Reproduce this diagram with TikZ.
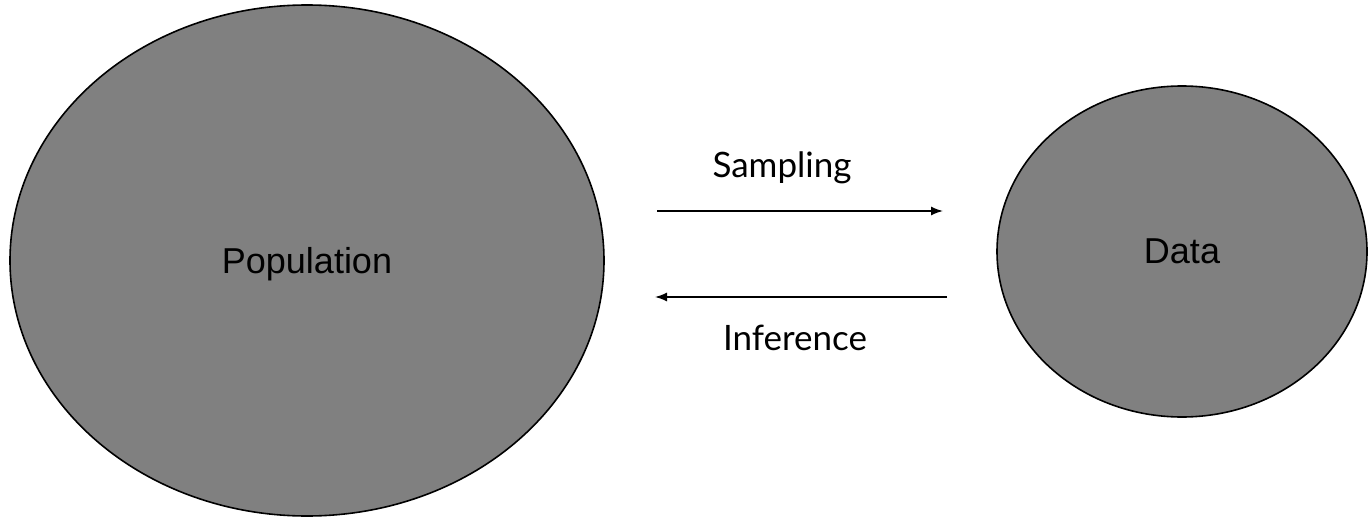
\documentclass[tikz,border=0pt]{standalone}
\usepackage{fontspec}
\setmainfont{Liberation Sans}
\newfontfamily\labelfont{Lato}
\usetikzlibrary{shapes.geometric, arrows.meta}

\tikzset{
	blob/.style={ellipse, draw=black, fill=gray, line width=1.6pt, inner sep=0pt,
		text depth=0pt, font=\fontsize{36}{43}\selectfont},
	flow/.style={line width=1.5pt, -{Latex[length=12pt, width=9pt]}},
	flowlabel/.style={anchor=base, font=\labelfont\fontsize{35}{42}\selectfont}
}

\begin{document}
\begin{tikzpicture}[x=1pt, y=-1pt]
	\useasboundingbox (0,0) rectangle (1369,519);
	
	\node[blob, minimum width=594pt, minimum height=511pt] (Pop) at (307,260.5) {Population};
	\node[blob, minimum width=370pt, minimum height=331pt] (Data) at (1182,251.5) {Data};
	
	\coordinate (S0) at (657,211);
	\coordinate (S1) at (943,211);
	\coordinate (I0) at (947,297);
	\coordinate (I1) at (655,297);
	
	\draw[flow] (S0) -- (S1);
	\draw[flow] (I0) -- (I1);
	
	\node[flowlabel] (Samp) at (782,177) {Sampling};
	\node[flowlabel] (Inf) at (795,350) {Inference};
	
\end{tikzpicture}
\end{document}
